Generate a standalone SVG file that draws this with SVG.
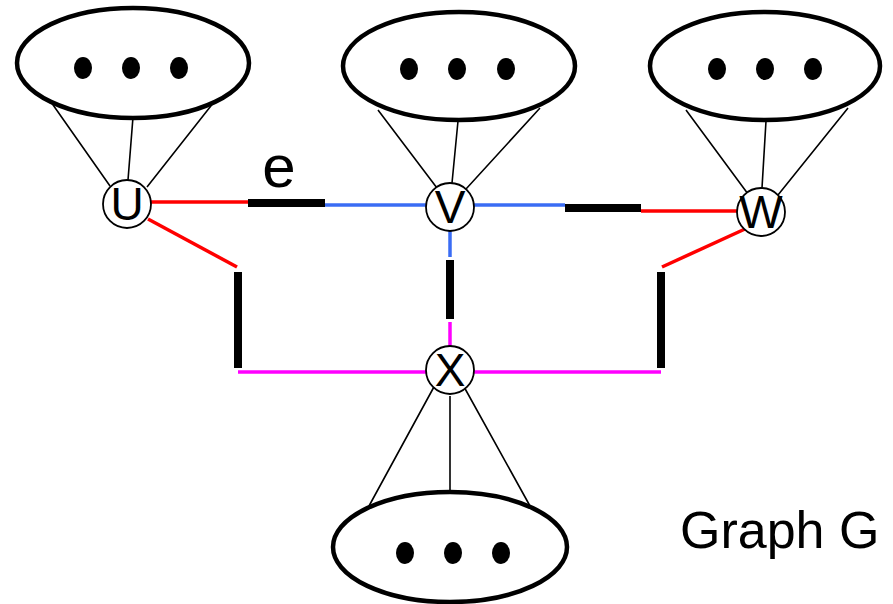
<svg xmlns="http://www.w3.org/2000/svg" width="893" height="604" viewBox="0 0 893 604">
  <style>
    .cluster { fill: #fff; stroke: #000; stroke-width: 4.5; }
    .dot { fill: #000; }
    .fan { stroke: #000; stroke-width: 1.6; fill: none; }
    .vertex { fill: #fff; stroke: #000; stroke-width: 1.8; }
    .vlabel { font-family: "Liberation Sans", Arial, sans-serif; font-size: 46px; text-anchor: middle; fill: #000; }
    .red { stroke: #ff0000; stroke-width: 3.5; fill: none; }
    .blue { stroke: #3a6cf4; stroke-width: 3.5; fill: none; }
    .mag { stroke: #ff00ff; stroke-width: 3.5; fill: none; }
    .cut { stroke: #000; stroke-width: 8; fill: none; }
    .label { font-family: "Liberation Sans", Arial, sans-serif; fill: #000; }
  </style>

  <!-- connectors -->
  <g id="edges">
    <!-- fans from clusters to vertices -->
    <path class="fan" d="M51,102 L110,186 M133,117 L128,180 M214,102 L147,187"/>
    <path class="fan" d="M378,110 L437,188 M458,121 L452,183 M540,108 L466,189"/>
    <path class="fan" d="M686,110 L748,194 M766,121 L762,188 M848,108 L778,195"/>
    <path class="fan" d="M435,385 L369,506 M450,396 L450,492 M463,385 L530,506"/>

    <!-- U - V -->
    <path class="red" d="M151,202 L248,202"/>
    <path class="cut" d="M248,203 L325,203"/>
    <path class="blue" d="M325,205 L426,205"/>

    <!-- V - W -->
    <path class="blue" d="M473,205 L565,205"/>
    <path class="cut" d="M565,208 L641,208"/>
    <path class="red" d="M641,211 L737,211"/>

    <!-- U - X -->
    <path class="red" d="M148,219 L237,267"/>
    <path class="cut" d="M238,272 L238,368"/>
    <path class="mag" d="M238,372 L426,372"/>

    <!-- V - X -->
    <path class="blue" d="M450,231 L450,257"/>
    <path class="cut" d="M450,260 L450,319"/>
    <path class="mag" d="M450,322 L450,348"/>

    <!-- W - X -->
    <path class="red" d="M745,229 L662,267"/>
    <path class="cut" d="M661,272 L661,368"/>
    <path class="mag" d="M474,372 L661,372"/>
  </g>

  <!-- clusters -->
  <g id="cluster-u">
    <ellipse class="cluster" cx="133" cy="63" rx="116" ry="55"/>
    <ellipse class="dot" cx="83" cy="68" rx="9" ry="11"/>
    <ellipse class="dot" cx="131" cy="68" rx="9" ry="11"/>
    <ellipse class="dot" cx="179" cy="68" rx="9" ry="11"/>
  </g>
  <g id="cluster-v">
    <ellipse class="cluster" cx="459" cy="66" rx="116" ry="54"/>
    <ellipse class="dot" cx="409" cy="69" rx="9" ry="11"/>
    <ellipse class="dot" cx="457" cy="69" rx="9" ry="11"/>
    <ellipse class="dot" cx="506" cy="69" rx="9" ry="11"/>
  </g>
  <g id="cluster-w">
    <ellipse class="cluster" cx="765" cy="66" rx="115" ry="54"/>
    <ellipse class="dot" cx="717" cy="69" rx="9" ry="11"/>
    <ellipse class="dot" cx="765" cy="69" rx="9" ry="11"/>
    <ellipse class="dot" cx="813" cy="69" rx="9" ry="11"/>
  </g>
  <g id="cluster-x">
    <ellipse class="cluster" cx="450" cy="547" rx="117" ry="55"/>
    <ellipse class="dot" cx="405" cy="553" rx="9" ry="11"/>
    <ellipse class="dot" cx="453" cy="553" rx="9" ry="11"/>
    <ellipse class="dot" cx="501" cy="553" rx="9" ry="11"/>
  </g>

  <!-- vertices -->
  <g id="node-u">
    <circle class="vertex" cx="127" cy="204" r="24"/>
    <text class="vlabel" x="127" y="220">U</text>
  </g>
  <g id="node-v">
    <circle class="vertex" cx="450" cy="207" r="24"/>
    <text class="vlabel" x="450" y="223">V</text>
  </g>
  <g id="node-w">
    <circle class="vertex" cx="761" cy="212" r="24"/>
    <text class="vlabel" x="761" y="228">W</text>
  </g>
  <g id="node-x">
    <circle class="vertex" cx="450" cy="370" r="24"/>
    <text class="vlabel" x="450" y="386">X</text>
  </g>

  <!-- labels -->
  <text class="label" x="279" y="187" font-size="60" text-anchor="middle">e</text>
  <text class="label" x="680" y="548" font-size="52">Graph G</text>
</svg>
